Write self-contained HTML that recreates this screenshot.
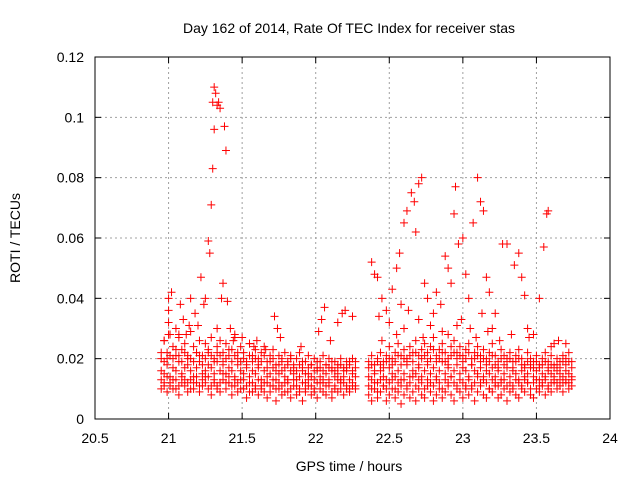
<!DOCTYPE html>
<html><head><meta charset="utf-8"><style>
html,body{margin:0;padding:0;background:#fff;}
svg{display:block;font-family:"Liberation Sans",sans-serif;}
</style></head><body>
<svg id="chart" width="640" height="480" viewBox="0 0 640 480" xmlns="http://www.w3.org/2000/svg">
<text x="349" y="33" font-size="14" text-anchor="middle" fill="#000">Day 162 of 2014, Rate Of TEC Index for receiver stas</text>
<text x="349" y="471" font-size="14" text-anchor="middle" fill="#000">GPS time / hours</text>
<text x="20" y="238" font-size="14" text-anchor="middle" fill="#000" transform="rotate(-90 20 238)">ROTI / TECUs</text>
<g id="grid"></g><g id="marks"></g><g id="axes"></g>
</svg>
<script>
const xTicks=[20.5,21,21.5,22,22.5,23,23.5,24];
const yTicks=[0,0.02,0.04,0.06,0.08,0.1,0.12];
const yTickLabels=["0","0.02","0.04","0.06","0.08","0.1","0.12"];
const band1T=[20.95,20.97,20.99,21.01,21.03,21.05,21.07,21.09,21.11,21.13,21.15,21.17,21.19,21.21,21.23,21.25,21.27,21.29,21.31,21.33,21.35,21.37,21.39,21.41,21.43,21.45,21.47,21.49,21.51,21.53,21.55,21.57,21.59,21.61,21.63,21.65,21.67,21.69,21.71,21.73,21.75,21.77,21.79,21.81,21.83,21.85,21.87,21.89,21.91,21.93,21.95,21.97,21.99,22.01,22.03,22.05,22.07,22.09,22.11,22.13,22.15,22.17,22.19,22.21,22.23,22.25,22.27];
const band1Lo=[.010,.012,.009,.011,.013,.010,.008,.012,.011,.009,.013,.010,.012,.009,.011,.014,.010,.008,.012,.011,.009,.013,.010,.012,.008,.011,.009,.013,.010,.007,.012,.009,.011,.008,.010,.012,.007,.009,.011,.006,.010,.008,.012,.009,.007,.011,.008,.010,.006,.009,.011,.008,.010,.007,.012,.009,.008,.011,.007,.010,.009,.012,.008,.010,.009,.011,.010];
const band1Q1=[.013,.011,.014,.012,.010,.013,.011,.014,.013,.012,.010,.012,.014,.011,.013,.012,.014,.011,.013,.010,.012,.015,.012,.014,.011,.013,.012,.010,.013,.011,.009,.012,.010,.013,.011,.009,.012,.011,.013,.010,.012,.011,.009,.012,.010,.013,.011,.009,.012,.010,.013,.011,.009,.012,.010,.013,.011,.012,.009,.011,.013,.010,.012,.011,.010,.012,.011];
const band1Mid=[.016,.015,.018,.014,.017,.016,.019,.015,.017,.018,.016,.014,.017,.019,.015,.016,.018,.017,.015,.019,.016,.018,.015,.017,.016,.014,.018,.016,.015,.017,.014,.016,.015,.017,.013,.016,.014,.015,.017,.013,.015,.016,.014,.013,.016,.015,.013,.014,.016,.012,.015,.014,.013,.016,.014,.012,.015,.013,.016,.014,.015,.013,.014,.016,.013,.015,.014];
const band1Q2=[.020,.019,.022,.021,.020,.023,.021,.019,.022,.021,.020,.019,.022,.021,.018,.020,.022,.021,.019,.022,.021,.019,.020,.023,.019,.021,.022,.019,.020,.018,.021,.019,.020,.018,.019,.021,.017,.019,.020,.016,.018,.019,.017,.018,.020,.017,.016,.018,.019,.015,.017,.018,.016,.019,.017,.016,.018,.017,.019,.016,.017,.018,.016,.017,.019,.016,.017];
const band1Hi=[.022,.026,.020,.028,.024,.021,.027,.023,.025,.020,.029,.024,.022,.026,.021,.025,.023,.027,.020,.024,.026,.022,.025,.021,.023,.027,.020,.024,.022,.019,.025,.021,.023,.020,.022,.024,.019,.021,.023,.018,.021,.020,.022,.019,.021,.018,.020,.022,.017,.019,.021,.018,.020,.017,.019,.021,.018,.020,.017,.019,.018,.020,.017,.019,.018,.020,.019];
const band2T=[22.36,22.38,22.40,22.42,22.44,22.46,22.48,22.50,22.52,22.54,22.56,22.58,22.60,22.62,22.64,22.66,22.68,22.70,22.72,22.74,22.76,22.78,22.80,22.82,22.84,22.86,22.88,22.90,22.92,22.94,22.96,22.98,23.00,23.02,23.04,23.06,23.08,23.10,23.12,23.14,23.16,23.18,23.20,23.22,23.24,23.26,23.28,23.30,23.32,23.34,23.36,23.38,23.40,23.42,23.44,23.46,23.48,23.50,23.52,23.54,23.56,23.58,23.60,23.62,23.64,23.66,23.68,23.70,23.72,23.74];
const band2Lo=[.008,.006,.010,.007,.009,.011,.006,.008,.010,.007,.009,.005,.008,.011,.007,.009,.006,.010,.008,.007,.011,.009,.006,.008,.010,.007,.009,.012,.008,.006,.010,.009,.007,.011,.008,.010,.006,.009,.012,.008,.007,.010,.009,.011,.007,.008,.010,.006,.009,.011,.008,.007,.010,.009,.012,.008,.007,.010,.009,.011,.008,.010,.009,.012,.010,.011,.009,.012,.010,.011];
const band2Q1=[.011,.010,.012,.009,.013,.011,.010,.012,.013,.010,.012,.011,.013,.010,.012,.014,.011,.013,.012,.010,.013,.012,.011,.013,.012,.010,.013,.011,.014,.012,.011,.013,.012,.010,.013,.011,.012,.014,.011,.013,.012,.010,.013,.012,.011,.012,.013,.011,.012,.010,.013,.012,.011,.013,.012,.010,.012,.013,.011,.012,.013,.011,.012,.013,.012,.013,.012,.013,.012,.013];
const band2Mid=[.014,.013,.015,.012,.016,.014,.013,.017,.015,.014,.016,.013,.015,.018,.014,.016,.015,.017,.014,.016,.018,.015,.017,.014,.016,.019,.015,.017,.014,.016,.018,.015,.017,.016,.014,.018,.016,.015,.017,.014,.016,.015,.017,.014,.016,.013,.015,.017,.014,.016,.015,.013,.016,.014,.015,.017,.014,.016,.013,.015,.014,.016,.015,.014,.016,.015,.014,.016,.015,.014];
const band2Q2=[.017,.018,.016,.019,.018,.017,.019,.020,.018,.019,.021,.018,.020,.019,.021,.019,.022,.018,.020,.021,.019,.020,.023,.019,.020,.022,.019,.018,.021,.022,.020,.021,.019,.020,.022,.018,.020,.021,.019,.020,.018,.019,.021,.018,.017,.020,.018,.019,.020,.017,.019,.020,.018,.017,.019,.018,.017,.019,.017,.018,.019,.017,.018,.017,.018,.017,.019,.018,.019,.017];
const band2Hi=[.019,.021,.018,.020,.022,.019,.021,.024,.020,.022,.025,.021,.023,.020,.024,.022,.026,.021,.023,.025,.022,.024,.027,.021,.023,.025,.022,.020,.024,.026,.022,.024,.021,.023,.025,.020,.022,.024,.021,.023,.020,.022,.025,.021,.019,.023,.021,.020,.022,.019,.021,.023,.020,.018,.022,.020,.019,.021,.018,.020,.022,.019,.021,.018,.020,.019,.021,.020,.022,.019];
const outT=[21.0,21.0,21.0,21.0,20.97,21.02,21.05,21.08,21.1,21.12,21.15,21.18,21.2,21.22,21.24,21.25,21.27,21.28,21.29,21.30,21.31,21.30,21.31,21.32,21.33,21.34,21.35,21.38,21.39,21.37,21.36,21.40,21.42,21.45,21.5,21.55,21.6,21.72,21.74,21.76,21.9,22.02,22.04,22.06,22.15,22.18,22.2,22.25,22.1,
22.38,22.40,22.42,22.45,22.48,22.5,22.52,22.55,22.57,22.6,22.62,22.65,22.67,22.7,22.72,22.68,22.74,22.76,22.8,22.82,22.85,22.88,22.9,22.92,22.95,22.94,22.97,23.0,23.02,23.04,23.07,23.1,23.12,23.14,23.16,23.18,23.2,23.22,23.27,23.30,23.35,23.38,23.4,23.42,23.44,23.48,23.52,23.55,23.57,23.58,23.6,23.65,23.7,22.9,22.6,22.7,23.05,22.45,22.55,
22.63,22.78,22.86,22.99,23.09,23.17,23.25,23.33,22.43,22.58,22.73,22.96,23.13,23.45,23.62,21.07,21.14,21.33,21.44,21.58,21.66];
const outV=[.032,.036,.040,.028,.026,.042,.030,.038,.033,.028,.040,.035,.031,.047,.038,.040,.059,.055,.071,.083,.096,.105,.110,.108,.104,.105,.103,.097,.089,.045,.040,.039,.030,.028,.027,.025,.026,.034,.030,.027,.024,.029,.033,.037,.032,.035,.036,.034,.026,
.052,.048,.047,.040,.036,.032,.043,.050,.055,.065,.069,.075,.072,.078,.080,.062,.045,.040,.035,.042,.038,.054,.050,.045,.077,.068,.058,.060,.048,.040,.065,.080,.072,.069,.047,.042,.030,.035,.058,.058,.051,.055,.047,.041,.030,.028,.040,.057,.068,.069,.024,.026,.025,.028,.030,.033,.030,.026,.028,
.036,.031,.029,.033,.027,.029,.026,.028,.034,.038,.027,.031,.035,.027,.025,.028,.031,.030,.026,.024,.023];

const L=95,R=610,T=57,B=419;
const sx=v=>L+(v-20.5)/(24-20.5)*(R-L);
const sy=v=>B-v/0.12*(B-T);
const NS="http://www.w3.org/2000/svg";
function mk(tag,attrs,parent){const e=document.createElementNS(NS,tag);for(const k in attrs)e.setAttribute(k,attrs[k]);parent.appendChild(e);return e;}
const grid=document.getElementById('grid'),marks=document.getElementById('marks'),axes=document.getElementById('axes');
xTicks.forEach((t,i)=>{const x=sx(t);
 if(i>0&&i<xTicks.length-1){const g=mk('line',{x1:x,x2:x,y1:T,y2:B,stroke:'#a0a0a0','stroke-dasharray':'2,3','stroke-width':1},grid);
 
 }
 mk('line',{x1:x,x2:x,y1:B,y2:B-6,stroke:'#000'},axes);
 mk('line',{x1:x,x2:x,y1:T,y2:T+6,stroke:'#000'},axes);
 const tx=mk('text',{x:x,y:B+24,'font-size':14,'text-anchor':'middle',fill:'#000'},axes);
 tx.textContent=String(t);
 
 
});
yTicks.forEach((t,i)=>{const y=sy(t);
 if(i>0&&i<yTicks.length-1){const g=mk('line',{x1:L,x2:R,y1:y,y2:y,stroke:'#a0a0a0','stroke-dasharray':'2,3','stroke-width':1},grid);
 
 }
 mk('line',{x1:L,x2:L+6,y1:y,y2:y,stroke:'#000'},axes);
 mk('line',{x1:R,x2:R-6,y1:y,y2:y,stroke:'#000'},axes);
 const tx=mk('text',{x:L-11,y:y+5,'font-size':14,'text-anchor':'end',fill:'#000'},axes);
 tx.textContent=yTickLabels[i];
 
 
});
const frame=mk('rect',{x:L,y:T,width:R-L,height:B-T,fill:'none',stroke:'#000','stroke-width':1},axes);


function plus(t,v){const x=sx(t),y=sy(v);
 const p=mk('path',{d:`M${x-4},${y}h8M${x},${y-4}v8`,stroke:'#ff0000','stroke-width':1,fill:'none'},marks);
 
 
}
function band(Ts,arrs){arrs.forEach(a=>{const n=Math.min(Ts.length,a.length);for(let i=0;i<n;i++)plus(Ts[i],a[i]);});}
band(band1T,[band1Lo,band1Q1,band1Mid,band1Q2,band1Hi]);
band(band2T,[band2Lo,band2Q1,band2Mid,band2Q2,band2Hi]);
for(let i=0;i<Math.min(outT.length,outV.length);i++)plus(outT[i],outV[i]);
</script>
</body></html>
